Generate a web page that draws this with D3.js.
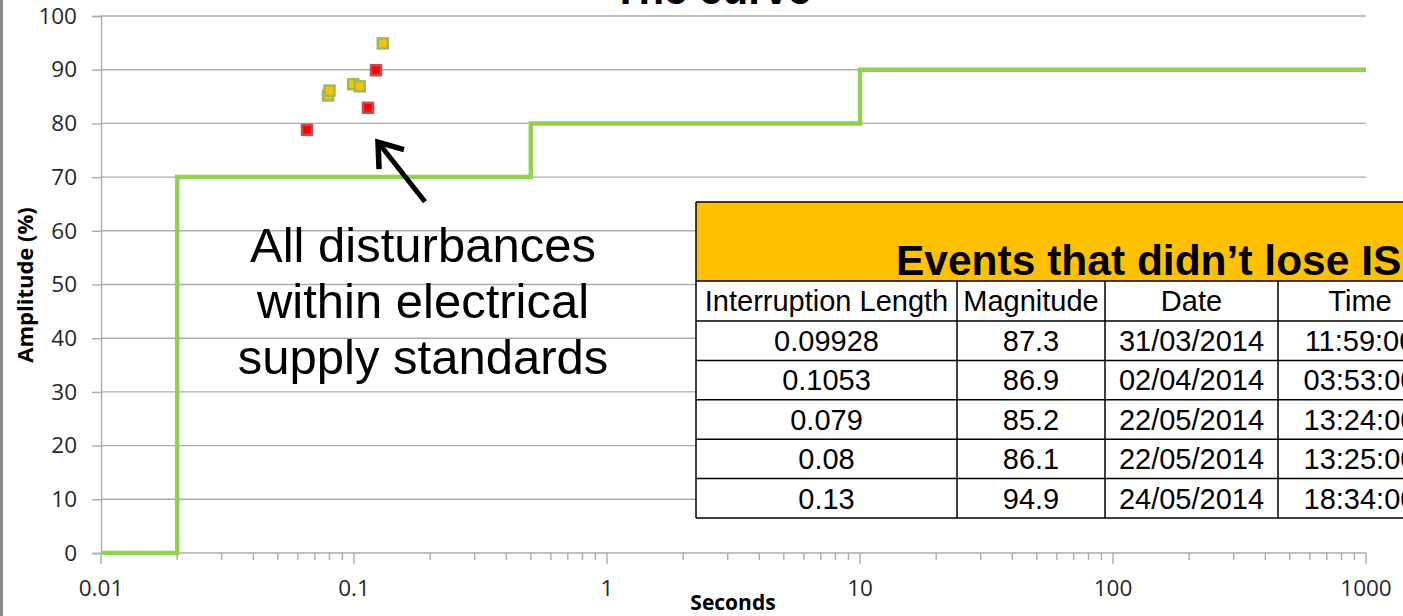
<!DOCTYPE html>
<html>
<head>
<meta charset="utf-8">
<script src="https://cdn.jsdelivr.net/npm/d3@7"></script>
<style>
  html, body { margin: 0; padding: 0; background: #fff; overflow: hidden; }
  svg { display: block; }
</style>
</head>
<body>
<svg id="chart" width="1403" height="616"></svg>
<script>
// ---- data ----
const yTicks = [0, 10, 20, 30, 40, 50, 60, 70, 80, 90, 100];
const xTickLabels = ["0.01", "0.1", "1", "10", "100", "1000"];

// tolerance curve (seconds, amplitude %), drawn as steps
const curveSeconds = [0.01, 0.02, 0.5, 10, 1000];
const curveAmplitude = [0, 70, 80, 90, 90];

// events that kept running (also listed in the table)
const eventLength = [0.09928, 0.1053, 0.079, 0.08, 0.13];
const eventMagnitude = [87.3, 86.9, 85.2, 86.1, 94.9];
const eventDate = ["31/03/2014", "02/04/2014", "22/05/2014", "22/05/2014", "24/05/2014"];
const eventTime = ["11:59:00", "03:53:00", "13:24:00", "13:25:00", "18:34:00"];

// other disturbances
const otherLength = [0.0652, 0.1136, 0.1222];
const otherMagnitude = [78.8, 82.9, 89.9];

const tableHeaders = ["Interruption Length", "Magnitude", "Date", "Time"];

// ---- layout ----
const svg = d3.select("#chart");
const plot = { left: 101, right: 1366, top: 16, bottom: 553 };
const x = d3.scaleLog().domain([0.01, 1000]).range([plot.left, plot.right]);
const y = d3.scaleLinear().domain([0, 100]).range([plot.bottom, plot.top]);

const gridColor = "#ababab";
const tickFont = "'Open Sans', 'DejaVu Sans', sans-serif";

// left frame edge
svg.append("rect").attr("x", 0).attr("y", 0).attr("width", 3).attr("height", 616).attr("fill", "#8c8c8c");

// horizontal gridlines
svg.append("g").selectAll("line").data(yTicks.filter(d => d > 0)).join("line")
  .attr("x1", plot.left).attr("x2", plot.right)
  .attr("y1", d => y(d)).attr("y2", d => y(d))
  .attr("stroke", gridColor).attr("stroke-width", 1.4);

// y axis
const yAxis = svg.append("g").attr("transform", `translate(${plot.left},0)`)
  .call(d3.axisLeft(y).tickValues(yTicks).tickSize(9).tickPadding(15).tickFormat(d3.format("d")));
yAxis.select(".domain").attr("stroke", gridColor).attr("stroke-width", 1.4);
yAxis.selectAll(".tick line").attr("stroke", gridColor).attr("stroke-width", 1.4);
yAxis.selectAll(".tick text").attr("font-family", tickFont).attr("font-size", 22.5).attr("fill", "#262626");

// x axis: decade ticks long, intermediate ticks short
const allTicks = x.ticks();
const isDecade = d => Math.abs(Math.log10(d) - Math.round(Math.log10(d))) < 1e-9;
const xAxisG = svg.append("g").attr("transform", `translate(0,${plot.bottom})`);
xAxisG.append("line").attr("x1", plot.left).attr("x2", plot.right)
  .attr("stroke", gridColor).attr("stroke-width", 1.4);
xAxisG.selectAll("line.t").data(allTicks).join("line").attr("class", "t")
  .attr("x1", d => x(d)).attr("x2", d => x(d))
  .attr("y1", 0).attr("y2", d => isDecade(d) ? 11 : 7)
  .attr("stroke", gridColor).attr("stroke-width", 1.4);
xAxisG.selectAll("text").data(xTickLabels).join("text")
  .attr("x", d => x(+d)).attr("y", 43)
  .attr("text-anchor", "middle")
  .attr("font-family", tickFont).attr("font-size", 22.5).attr("fill", "#262626")
  .text(d => d);

// axis titles
svg.append("text").attr("x", 733).attr("y", 610).attr("text-anchor", "middle")
  .attr("font-family", tickFont).attr("font-weight", "bold").attr("font-size", 21).attr("fill", "#000")
  .text("Seconds");
svg.append("text").attr("transform", "translate(33,285) rotate(-90)").attr("text-anchor", "middle")
  .attr("font-family", tickFont).attr("font-weight", "bold").attr("font-size", 22).attr("fill", "#000")
  .text("Amplitude (%)");

// chart title (runs off the top edge)
svg.append("text").attr("x", 712).attr("y", 4).attr("text-anchor", "middle")
  .attr("font-family", "'Liberation Sans', Arial, sans-serif").attr("font-weight", "bold")
  .attr("font-size", 42).attr("fill", "#000").text("The curve");

// step curve
const curvePts = curveSeconds.map((s, i) => [s, curveAmplitude[i]]);
svg.append("path")
  .attr("d", d3.line().x(d => x(d[0])).y(d => y(d[1])).curve(d3.curveStepAfter)(curvePts))
  .attr("fill", "none").attr("stroke", "#92D050").attr("stroke-width", 4.5);

// markers
const markerSize = 10;
function drawMarkers(lengths, mags, fill, stroke) {
  svg.append("g").selectAll("rect").data(lengths.map((l, i) => [l, mags[i]])).join("rect")
    .attr("x", d => x(d[0]) - markerSize / 2).attr("y", d => y(d[1]) - markerSize / 2)
    .attr("width", markerSize).attr("height", markerSize)
    .attr("fill", fill).attr("stroke", stroke).attr("stroke-width", 2.5);
}
drawMarkers(otherLength, otherMagnitude, "#FF0000", "#C0504D");
drawMarkers(eventLength, eventMagnitude, "#FFC000", "#9BBB59");

// annotation
const noteFont = "'Liberation Sans', Arial, sans-serif";
const noteLines = ["All disturbances", "within electrical", "supply standards"];
svg.append("g").selectAll("text").data(noteLines).join("text")
  .attr("x", 423).attr("y", (d, i) => 262 + i * 56)
  .attr("text-anchor", "middle").attr("font-family", noteFont).attr("font-size", 49).attr("fill", "#000")
  .text(d => d);

// arrow pointing at the cluster of events
const tip = [x(0.1244), y(76.5)];
const tail = [x(0.1908), y(65.4)];
const dir = [tail[0] - tip[0], tail[1] - tip[1]];
const len = Math.hypot(dir[0], dir[1]);
const u = [dir[0] / len, dir[1] / len];
const rot = (v, a) => [v[0] * Math.cos(a) - v[1] * Math.sin(a), v[0] * Math.sin(a) + v[1] * Math.cos(a)];
const headLen = 27, headAng = 36 * Math.PI / 180;
const w1 = rot(u, headAng), w2 = rot(u, -headAng);
svg.append("path")
  .attr("d", `M${tail[0]},${tail[1]}L${tip[0] + u[0] * 3},${tip[1] + u[1] * 3}`)
  .attr("stroke", "#000").attr("stroke-width", 5).attr("fill", "none");
svg.append("path")
  .attr("d", `M${tip[0] + w1[0] * headLen},${tip[1] + w1[1] * headLen}L${tip[0]},${tip[1]}L${tip[0] + w2[0] * headLen},${tip[1] + w2[1] * headLen}`)
  .attr("stroke", "#000").attr("stroke-width", 5.5).attr("fill", "none")
  .attr("stroke-linejoin", "miter").attr("stroke-linecap", "butt");

// events table
const tbl = { left: 696, top: 202, bandBottom: 281, headBottom: 321, rowH: 39.4 };
const colEdges = [696, 957, 1105, 1278, 1442];
const tableFont = "'Liberation Sans', Arial, sans-serif";
const tg = svg.append("g");
const tableBottom = tbl.headBottom + eventLength.length * tbl.rowH;

tg.append("rect").attr("x", tbl.left).attr("y", tbl.top)
  .attr("width", 1403 - tbl.left + 10).attr("height", tbl.bandBottom - tbl.top)
  .attr("fill", "#FFC000");
tg.append("rect").attr("x", tbl.left).attr("y", tbl.bandBottom)
  .attr("width", 1403 - tbl.left + 10).attr("height", tableBottom - tbl.bandBottom)
  .attr("fill", "#fff");

tg.append("text").attr("x", 896).attr("y", 275)
  .attr("font-family", tableFont).attr("font-weight", "bold").attr("font-size", 42.5).attr("fill", "#000")
  .text("Events that didn’t lose IS");

const rowsY = [tbl.top, tbl.bandBottom, tbl.headBottom].concat(eventLength.map((_, i) => tbl.headBottom + (i + 1) * tbl.rowH));
tg.selectAll("line.h").data(rowsY).join("line").attr("class", "h")
  .attr("x1", tbl.left).attr("x2", 1410).attr("y1", d => d).attr("y2", d => d)
  .attr("stroke", "#000").attr("stroke-width", 1.5);
tg.append("line").attr("x1", tbl.left).attr("x2", tbl.left).attr("y1", tbl.top).attr("y2", tableBottom)
  .attr("stroke", "#000").attr("stroke-width", 1.5);
tg.selectAll("line.v").data(colEdges.slice(1, -1)).join("line").attr("class", "v")
  .attr("x1", d => d).attr("x2", d => d).attr("y1", tbl.bandBottom).attr("y2", tableBottom)
  .attr("stroke", "#000").attr("stroke-width", 1.5);

const colCenter = i => (colEdges[i] + colEdges[i + 1]) / 2;
tg.selectAll("text.hd").data(tableHeaders).join("text").attr("class", "hd")
  .attr("x", (d, i) => colCenter(i)).attr("y", tbl.bandBottom + 30)
  .attr("text-anchor", "middle").attr("font-family", tableFont).attr("font-size", 29).attr("fill", "#000")
  .text(d => d);

const rows = eventLength.map((l, i) => [String(l), eventMagnitude[i].toFixed(1), eventDate[i], eventTime[i]]);
rows.forEach((r, ri) => {
  tg.selectAll(null).data(r).join("text")
    .attr("x", (d, i) => colCenter(i))
    .attr("y", tbl.headBottom + ri * tbl.rowH + 30)
    .attr("text-anchor", "middle").attr("font-family", tableFont).attr("font-size", 29).attr("fill", "#000")
    .text(d => d);
});
</script>
</body>
</html>
